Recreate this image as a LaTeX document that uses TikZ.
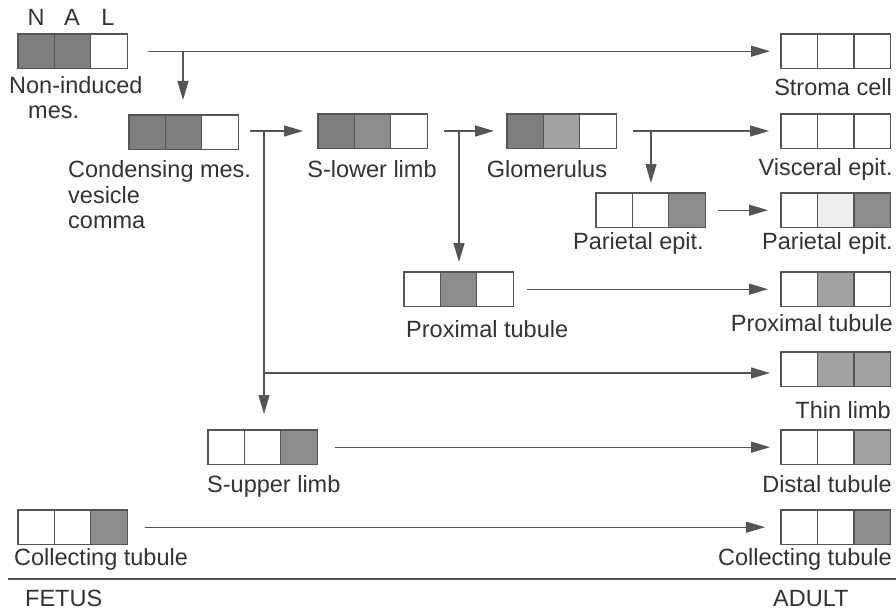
\documentclass[tikz,border=0pt]{standalone}
\usepackage{fontspec}
\setmainfont{Liberation Sans}
\usetikzlibrary{arrows.meta,calc}
\definecolor{ink}{HTML}{333333}
\definecolor{lineg}{HTML}{555555}
\definecolor{dk}{HTML}{7E7E7E}
\definecolor{md}{HTML}{8C8C8C}
\definecolor{lt}{HTML}{A2A2A2}
\definecolor{vlt}{HTML}{EFEFEF}
\tikzset{
  cellbox/.style={inner sep=0pt, minimum width=109pt, minimum height=34pt, anchor=north west},
  boxline/.style={draw=lineg, line width=1.1pt},
  arr/.style={draw=lineg, line width=1.3pt, -{Triangle[length=19pt,width=11pt]}},
  plain/.style={draw=lineg, line width=1.3pt},
  lbl/.style={text=ink, inner sep=0pt, font=\fontsize{23.5}{28}\selectfont},
}
\newcommand\tribox[5]{%
  \node[cellbox] (#1) at #2 {};
  \fill[#3] (#1.north west) rectangle ($(#1.south west)!0.3333!(#1.south east)$);
  \fill[#4] ($(#1.north west)!0.3333!(#1.north east)$) rectangle ($(#1.south west)!0.6667!(#1.south east)$);
  \fill[#5] ($(#1.north west)!0.6667!(#1.north east)$) rectangle (#1.south east);
  \draw[boxline] (#1.north west) rectangle (#1.south east);
  \draw[boxline] ($(#1.north west)!0.3333!(#1.north east)$) -- ($(#1.south west)!0.3333!(#1.south east)$);
  \draw[boxline] ($(#1.north west)!0.6667!(#1.north east)$) -- ($(#1.south west)!0.6667!(#1.south east)$);
}
\begin{document}
\begin{tikzpicture}[x=1pt,y=-1pt]
\useasboundingbox[fill=white] (0,0) rectangle (896,615);
% boxes
\tribox{ni}{(18,34)}{dk}{dk}{white}
\tribox{cm}{(129,115)}{dk}{dk}{white}
\tribox{sl}{(318,114)}{dk}{md}{white}
\tribox{gl}{(507,114)}{dk}{lt}{white}
\tribox{st}{(781,34)}{white}{white}{white}
\tribox{ve}{(781,114)}{white}{white}{white}
\tribox{pf}{(596,193)}{white}{white}{md}
\tribox{pa}{(781,193)}{white}{vlt}{md}
\tribox{prf}{(404,272)}{white}{md}{white}
\tribox{pra}{(781,272)}{white}{lt}{white}
\tribox{tl}{(781,352)}{white}{lt}{lt}
\tribox{su}{(208,430)}{white}{white}{md}
\tribox{dt}{(781,430)}{white}{white}{lt}
\tribox{cf}{(18,510)}{white}{white}{md}
\tribox{ca}{(781,510)}{white}{white}{md}
% labels
\node[lbl, anchor=base] (lN) at (36,26) {N};
\node[lbl, anchor=base] (lA) at (72,26) {A};
\node[lbl, anchor=base] (lL) at (108,26) {L};
\node[lbl, anchor=base west] (l1) at (9,94) {Non-induced};
\node[lbl, anchor=base west] (l1b) at (28,118) {mes.};
\node[lbl, anchor=base west] (l2) at (68,177) {Condensing mes.};
\node[lbl, anchor=base west] (l2b) at (68,203) {vesicle};
\node[lbl, anchor=base west] (l2c) at (68,228) {comma};
\node[lbl, anchor=base] (l3) at (372,177) {S-lower limb};
\node[lbl, anchor=base] (l4) at (547,177) {Glomerulus};
\node[lbl, anchor=base east] (l5) at (892,96) {Stroma cell};
\node[lbl, anchor=base east] (l6) at (893,175) {Visceral epit.};
\node[lbl, anchor=base east] (l7) at (704,249) {Parietal epit.};
\node[lbl, anchor=base east] (l8) at (893,249) {Parietal epit.};
\node[lbl, anchor=base west] (l9) at (406,337) {Proximal tubule};
\node[lbl, anchor=base east] (l10) at (893,331) {Proximal tubule};
\node[lbl, anchor=base east] (l11) at (891,418) {Thin limb};
\node[lbl, anchor=base west] (l12) at (207,492) {S-upper limb};
\node[lbl, anchor=base east] (l13) at (892,492) {Distal tubule};
\node[lbl, anchor=base west] (l14) at (14,565) {Collecting tubule};
\node[lbl, anchor=base east] (l15) at (892,565) {Collecting tubule};
\node[lbl, anchor=base west] (l16) at (25,606) {FETUS};
\node[lbl, anchor=base west] (l17) at (773,606) {ADULT};
% baseline rule
\coordinate (r1) at (8,579);
\coordinate (r2) at (896,579);
\draw[draw=lineg, line width=1.6pt] (r1) -- (r2);
% junction points
\coordinate (j1) at (183,51);
\coordinate (j2) at (264,131);
\coordinate (j3) at (459,131);
\coordinate (j4) at (651,131);
\coordinate (j5) at (264,373);
% connectors
\draw[arr, shorten <=21pt, shorten >=11pt] (ni.east) -- (st.west);
\draw[arr, shorten >=15pt] (j1) -- (j1 |- cm.north);
\draw[arr, shorten <=12pt, shorten >=15pt] (cm.east |- j2) -- (sl.west |- j2);
\draw[plain] (j2) -- (j5);
\draw[arr, shorten >=16pt] (j5) -- (j5 |- su.north);
\draw[arr, shorten >=11pt] (j5) -- (j5 -| tl.west);
\draw[arr, shorten <=17pt, shorten >=13pt] (sl.east |- j3) -- (gl.west |- j3);
\draw[arr, shorten >=10pt] (j3) -- (j3 |- prf.north);
\draw[arr, shorten <=17pt, shorten >=12pt] (gl.east |- j4) -- (ve.west |- j4);
\draw[arr, shorten >=10pt] (j4) -- (j4 |- pf.north);
\draw[arr, shorten <=13pt, shorten >=13pt] (pf.east) -- (pa.west);
\draw[arr, shorten <=14pt, shorten >=13pt] (prf.east) -- (pra.west);
\draw[arr, shorten <=18pt, shorten >=11pt] (su.east) -- (dt.west);
\draw[arr, shorten <=18pt, shorten >=16pt] (cf.east) -- (ca.west);
\end{tikzpicture}
\end{document}
